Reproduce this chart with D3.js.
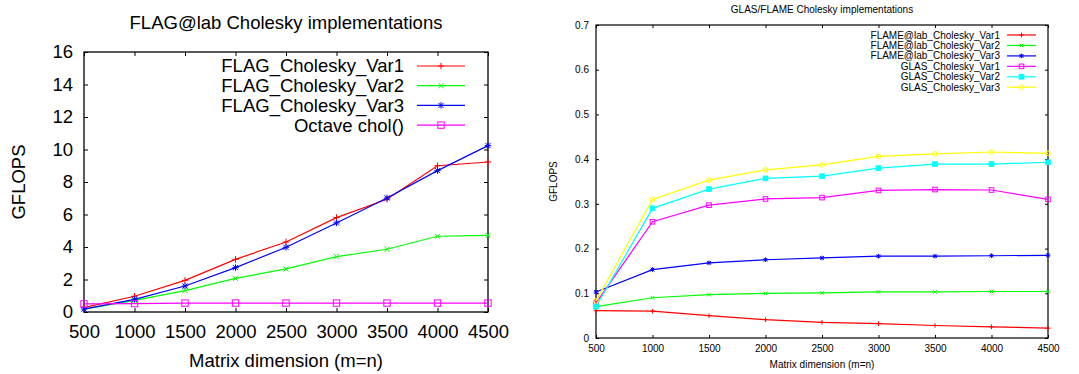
<!DOCTYPE html>
<html>
<head>
<meta charset="utf-8">
<script src="https://cdn.jsdelivr.net/npm/d3@7"></script>
<style>
  html, body { margin: 0; padding: 0; background: #fff; }
  svg { display: block; font-family: "Liberation Sans", Arial, Helvetica, sans-serif; }
</style>
</head>
<body>
<svg id="chart" width="1079" height="374"></svg>
<script>
// ---------- DATA ----------
const matrixSizes = [500, 1000, 1500, 2000, 2500, 3000, 3500, 4000, 4500];

// Left chart: FLAG@lab Cholesky implementations (GFLOPS)
const leftTitle = "FLAG@lab Cholesky implementations";
const flagVar1 = [0.27, 0.97, 1.95, 3.24, 4.31, 5.81, 6.94, 9.0, 9.23];
const flagVar2 = [0.18, 0.72, 1.32, 2.07, 2.65, 3.41, 3.86, 4.66, 4.72];
const flagVar3 = [0.18, 0.78, 1.6, 2.73, 3.98, 5.48, 7.02, 8.7, 10.24];
const octaveChol = [0.5, 0.52, 0.55, 0.55, 0.55, 0.55, 0.55, 0.55, 0.55];
const leftNames = ["FLAG_Cholesky_Var1", "FLAG_Cholesky_Var2", "FLAG_Cholesky_Var3", "Octave chol()"];
const leftYTicks = [0, 2, 4, 6, 8, 10, 12, 14, 16];

// Right chart: GLAS/FLAME Cholesky implementations (GFLOPS)
const rightTitle = "GLAS/FLAME Cholesky implementations";
const flameVar1 = [0.061, 0.06, 0.05, 0.041, 0.035, 0.032, 0.028, 0.025, 0.022];
const flameVar2 = [0.07, 0.09, 0.097, 0.1, 0.101, 0.103, 0.103, 0.104, 0.104];
const flameVar3 = [0.103, 0.153, 0.168, 0.175, 0.179, 0.183, 0.183, 0.184, 0.185];
const glasVar1 = [0.078, 0.26, 0.297, 0.311, 0.314, 0.33, 0.332, 0.331, 0.31];
const glasVar2 = [0.07, 0.29, 0.333, 0.357, 0.362, 0.38, 0.389, 0.389, 0.393];
const glasVar3 = [0.083, 0.31, 0.353, 0.376, 0.387, 0.406, 0.412, 0.416, 0.413];
const rightNames = ["FLAME@lab_Cholesky_Var1", "FLAME@lab_Cholesky_Var2", "FLAME@lab_Cholesky_Var3",
                    "GLAS_Cholesky_Var1", "GLAS_Cholesky_Var2", "GLAS_Cholesky_Var3"];
const rightYTicks = [0, 0.1, 0.2, 0.3, 0.4, 0.5, 0.6, 0.7];

const xLabel = "Matrix dimension (m=n)";
const yLabel = "GFLOPS";

// ---------- STYLE ----------
const svg = d3.select("#chart");
svg.append("rect").attr("width", 1079).attr("height", 374).attr("fill", "#fff");

function drawMarker(g, type, cx, cy, s, color) {
  const p = g.append("g").attr("transform", `translate(${cx},${cy})`)
    .attr("stroke", color).attr("fill", "none").attr("stroke-width", 1);
  const plus = () => { p.append("line").attr("x1", -s).attr("x2", s).attr("y1", 0).attr("y2", 0);
                       p.append("line").attr("x1", 0).attr("x2", 0).attr("y1", -s).attr("y2", s); };
  const cross = () => { const d = s * 0.8;
                        p.append("line").attr("x1", -d).attr("x2", d).attr("y1", -d).attr("y2", d);
                        p.append("line").attr("x1", -d).attr("x2", d).attr("y1", d).attr("y2", -d); };
  if (type === "plus") plus();
  else if (type === "cross") cross();
  else if (type === "star") { plus(); cross(); }
  else if (type === "square") {
    p.append("rect").attr("x", -s).attr("y", -s).attr("width", 2 * s).attr("height", 2 * s);
  } else if (type === "fsquare") {
    p.append("rect").attr("x", -s).attr("y", -s).attr("width", 2 * s).attr("height", 2 * s).attr("fill", color);
  } else if (type === "circle") {
    p.append("circle").attr("r", s);
  }
}

function drawPanel(cfg) {
  const x = d3.scaleLinear().domain([500, 4500]).range([cfg.left, cfg.right]);
  const y = d3.scaleLinear().domain([0, cfg.yMax]).range([cfg.bottom, cfg.top]);
  const g = svg.append("g");
  const fs = cfg.fontSize;

  // ticks, mirrored, inward (gnuplot style)
  const ax = g.append("g").attr("transform", `translate(0,${cfg.bottom})`)
    .call(d3.axisBottom(x).tickValues(matrixSizes).tickFormat(d3.format("d"))
      .tickSizeInner(-cfg.tick).tickSizeOuter(0).tickPadding(cfg.xPad));
  const axT = g.append("g").attr("transform", `translate(0,${cfg.top})`)
    .call(d3.axisTop(x).tickValues(matrixSizes).tickFormat("")
      .tickSizeInner(-cfg.tick).tickSizeOuter(0));
  const ay = g.append("g").attr("transform", `translate(${cfg.left},0)`)
    .call(d3.axisLeft(y).tickValues(cfg.yTicks).tickFormat(cfg.yFmt)
      .tickSizeInner(-cfg.tick).tickSizeOuter(0).tickPadding(cfg.yPad));
  const ayR = g.append("g").attr("transform", `translate(${cfg.right},0)`)
    .call(d3.axisRight(y).tickValues(cfg.yTicks).tickFormat("")
      .tickSizeInner(-cfg.tick).tickSizeOuter(0));
  [ax, axT, ay, ayR].forEach(a => {
    a.select(".domain").remove();
    a.selectAll("line").attr("stroke", "#000");
    a.selectAll("text").attr("fill", "#000").style("font-size", fs + "px")
      .style("font-family", "'Liberation Sans', Arial, sans-serif");
  });

  // frame
  g.append("rect").attr("x", cfg.left).attr("y", cfg.top)
    .attr("width", cfg.right - cfg.left).attr("height", cfg.bottom - cfg.top)
    .attr("fill", "none").attr("stroke", "#000").attr("stroke-width", cfg.frameW);

  // title and axis labels
  g.append("text").attr("x", cfg.titleX).attr("y", cfg.titleY).attr("text-anchor", "middle")
    .style("font-size", fs + "px").text(cfg.title);
  g.append("text").attr("x", cfg.titleX).attr("y", cfg.xLabelY).attr("text-anchor", "middle")
    .style("font-size", fs + "px").text(xLabel);
  g.append("text").attr("transform", `translate(${cfg.yLabelX},${(cfg.top + cfg.bottom) / 2}) rotate(-90)`)
    .attr("text-anchor", "middle").style("font-size", fs + "px").text(yLabel);

  // series
  const line = d3.line().x((d, i) => x(matrixSizes[i])).y(d => y(d));
  cfg.series.forEach((s, k) => {
    g.append("path").datum(s.values).attr("d", line)
      .attr("fill", "none").attr("stroke", s.color).attr("stroke-width", cfg.lineW);
    s.values.forEach((v, i) => drawMarker(g, s.marker, x(matrixSizes[i]), y(v), cfg.mk, s.color));
    // legend
    const ly = cfg.legY0 + k * cfg.legDy;
    g.append("text").attr("x", cfg.legTextX).attr("y", ly).attr("dy", "0.35em")
      .attr("text-anchor", "end").style("font-size", fs + "px").text(s.name);
    g.append("line").attr("x1", cfg.legX1).attr("x2", cfg.legX2).attr("y1", ly).attr("y2", ly)
      .attr("stroke", s.color).attr("stroke-width", cfg.lineW);
    drawMarker(g, s.marker, (cfg.legX1 + cfg.legX2) / 2, ly, cfg.mk, s.color);
  });
}

drawPanel({
  left: 84, right: 488, top: 52, bottom: 312, yMax: 16, yTicks: leftYTicks, yFmt: d3.format("d"),
  fontSize: 18.5, tick: 4, xPad: 13, yPad: 11, frameW: 1.3, lineW: 1.2, mk: 3.2,
  title: leftTitle, titleX: 286, titleY: 29, xLabelY: 367, yLabelX: 25,
  legTextX: 404, legX1: 417, legX2: 465, legY0: 66, legDy: 19.7,
  series: [
    { name: leftNames[0], values: flagVar1, color: "#ff0000", marker: "plus" },
    { name: leftNames[1], values: flagVar2, color: "#00ff00", marker: "cross" },
    { name: leftNames[2], values: flagVar3, color: "#0000ff", marker: "star" },
    { name: leftNames[3], values: octaveChol, color: "#ff00ff", marker: "square" }
  ]
});

drawPanel({
  left: 596, right: 1048, top: 25, bottom: 338, yMax: 0.7, yTicks: rightYTicks,
  yFmt: d => d === 0 ? "0" : d3.format(".1f")(d),
  fontSize: 10, tick: 3, xPad: 7, yPad: 7, frameW: 1.2, lineW: 1.2, mk: 2.3,
  title: rightTitle, titleX: 822, titleY: 13, xLabelY: 368, yLabelX: 557,
  legTextX: 1000, legX1: 1007, legX2: 1036, legY0: 35, legDy: 10.45,
  series: [
    { name: rightNames[0], values: flameVar1, color: "#ff0000", marker: "plus" },
    { name: rightNames[1], values: flameVar2, color: "#00ff00", marker: "cross" },
    { name: rightNames[2], values: flameVar3, color: "#0000ff", marker: "star" },
    { name: rightNames[3], values: glasVar1, color: "#ff00ff", marker: "square" },
    { name: rightNames[4], values: glasVar2, color: "#00ffff", marker: "fsquare" },
    { name: rightNames[5], values: glasVar3, color: "#ffff00", marker: "circle" }
  ]
});
</script>
</body>
</html>
